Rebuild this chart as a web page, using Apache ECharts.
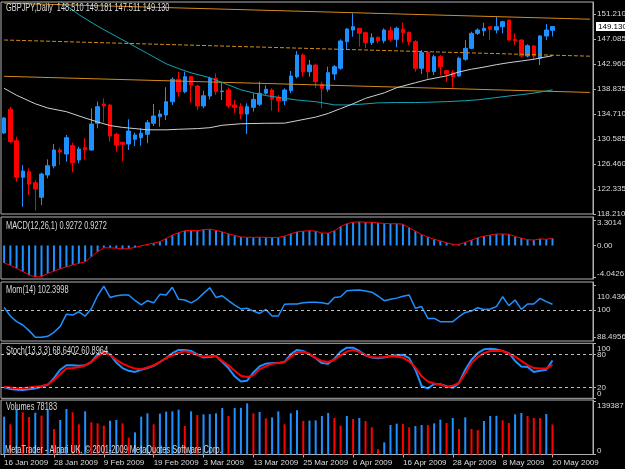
<!DOCTYPE html>
<html><head><meta charset="utf-8">
<script src="https://cdn.jsdelivr.net/npm/echarts@6/dist/echarts.min.js"></script>
<style>html,body{margin:0;padding:0;background:#000;overflow:hidden}#c{width:625px;height:469px}</style>
</head><body><div id="c"></div>
<script>
// ---------------- data ----------------
const symbolName = 'GBPJPY,Daily';
const xTickLabels = ['16 Jan 2009','28 Jan 2009','9 Feb 2009','19 Feb 2009','3 Mar 2009','13 Mar 2009','25 Mar 2009','6 Apr 2009','16 Apr 2009','28 Apr 2009','8 May 2009','20 May 2009'];
const barsPerLabel = 8;
const futureBars = 6;

const opens = [131.58,135.49,130.30,124.27,125.19,123.37,120.97,124.65,126.13,128.77,
 128.11,129.48,127.12,129.15,128.77,133.18,136.36,136.20,131.36,130.04,
 129.76,130.54,130.80,131.36,133.18,134.26,134.54,136.74,140.43,138.39,
 140.87,139.33,136.03,137.68,140.60,138.40,138.67,136.20,135.92,134.71,
 135.81,136.31,138.13,138.67,137.46,136.90,138.56,140.87,144.45,141.69,
 142.79,139.61,138.79,141.31,142.25,146.64,148.57,148.85,148.13,146.48,
 147.36,146.80,148.46,147.03,148.68,148.19,146.64,142.25,144.83,141.69,
 144.17,141.86,141.53,140.98,143.73,145.55,148.02,148.46,149.12,148.57,
 149.12,150.22,147.03,146.92,144.28,145.93,143.90,147.58,148.510];
const highs = [134.20,135.92,130.96,126.30,125.75,123.82,125.03,127.23,129.76,129.15,
 131.25,129.97,129.32,130.70,135.65,136.74,137.30,136.30,131.63,130.14,
 133.83,131.63,132.35,133.72,136.36,135.37,139.12,140.77,141.69,141.69,
 141.00,139.50,138.56,140.87,141.42,140.00,139.12,137.02,136.48,136.48,
 138.13,140.04,139.45,138.95,137.84,138.95,141.80,145.10,144.72,143.62,
 142.90,140.04,142.52,142.79,147.02,148.85,151.33,148.90,148.30,148.02,
 147.50,148.85,149.12,149.12,149.77,148.30,146.92,145.27,144.99,144.50,
 144.45,141.97,141.97,144.17,146.92,148.30,148.85,149.77,149.12,150.76,
 150.10,150.22,148.02,147.03,146.21,146.10,147.75,149.56,149.181];
const lows = [131.40,129.88,123.54,119.41,121.35,118.75,119.70,124.10,125.75,126.30,
 126.84,125.09,126.58,127.20,128.66,132.35,133.34,130.14,128.49,126.95,
 128.77,129.43,129.48,129.88,132.73,132.62,133.72,136.20,137.57,138.13,
 136.57,135.37,135.65,137.13,137.84,137.02,135.65,134.82,133.83,131.41,
 135.10,136.03,137.90,135.26,135.10,136.20,138.13,140.60,140.87,140.87,
 138.95,135.65,138.39,140.32,142.00,145.27,147.47,145.82,145.60,146.10,
 146.40,146.37,146.64,145.72,146.48,146.10,141.69,141.31,140.32,141.15,
 141.15,140.04,139.12,140.87,143.50,145.39,147.75,147.58,146.92,148.02,
 148.02,146.80,146.10,144.07,144.07,143.62,142.79,146.92,147.511];
const closes = [134.05,130.14,124.27,125.30,123.16,122.33,124.81,126.18,128.77,128.44,
 130.80,126.67,128.94,128.82,133.06,135.92,136.03,131.08,129.60,129.71,
 131.91,131.25,131.53,133.28,134.38,134.71,136.74,140.43,138.39,140.87,
 139.50,136.03,137.73,140.60,138.39,138.50,136.03,135.81,134.71,135.92,
 137.13,138.13,138.79,137.18,136.90,138.67,140.98,144.45,141.69,142.79,
 140.04,138.95,141.53,142.52,146.76,148.73,149.12,148.02,146.48,147.30,
 146.80,148.57,147.03,148.85,148.13,146.64,142.25,144.83,141.69,144.17,
 142.52,141.31,140.87,143.90,145.55,148.02,148.57,148.85,148.68,149.12,
 149.94,146.92,146.80,144.28,145.98,144.28,147.58,148.57,149.130];

// moving averages: [bar index, value]
const maFast = [[0,138.95],[2,137.8],[5,136.4],[7,135.7],[10,135.09],[13,134.05],[15,133.4],[17,132.8],[19,132.5],[21,132.3],[23,132.1],[26,132.1],[28,132.19],[31,132.3],[33,132.45],[35,132.85],[38,133.1],[42,133.18],[45,133.2],[47,133.6],[50,134.2],[52,134.8],[54,135.6],[56,136.4],[58,137.3],[61,138.2],[63,139.05],[66,139.87],[68,140.4],[71,141.0],[73,141.65],[75,142.1],[77,142.45],[79,142.85],[81,143.18],[83,143.45],[85,143.75],[88,144.33]];
const maSlow = [[8,154.1],[9,153.35],[10,152.6],[12,151.1],[15,149.2],[18,147.5],[20,146.4],[23,144.7],[26,143.0],[28,142.2],[30,141.5],[33,140.7],[35,139.9],[38,138.7],[40,138.2],[42,137.75],[45,137.3],[47,137.02],[50,136.74],[53,136.22],[55,136.2],[57,136.3],[60,136.55],[63,136.6],[66,136.6],[68,136.65],[71,136.75],[74,136.9],[76,137.05],[78,137.3],[81,137.68],[83,137.9],[85,138.15],[87,138.5],[88,138.7]];

// regression channel end points: [bar index, price]
const channelTop = [[0,153.0],[94,150.35]];
const channelMid = [[0,146.92],[94,144.25]];
const channelBot = [[0,140.93],[94,138.27]];

const macd = [-2.25,-2.55,-2.94,-3.35,-3.8,-4.04,-4.0,-3.6,-3.3,-3.0,
 -2.75,-2.5,-2.3,-2.1,-1.45,-0.8,-0.3,-0.3,-0.35,-0.45,
 -0.4,-0.25,-0.05,0.15,0.3,0.5,0.9,1.35,1.65,1.9,
 1.95,1.9,2.05,2.1,1.95,1.75,1.5,1.3,1.1,1.05,
 1.05,1.08,1.05,1.02,1.05,1.2,1.5,1.75,1.85,1.9,
 1.85,1.6,1.6,1.9,2.45,2.8,3.0,3.05,3.0,3.0,
 2.9,2.85,2.8,2.8,2.75,2.3,1.85,1.4,1.1,0.8,
 0.6,0.35,0.15,0.15,0.4,0.7,1.0,1.2,1.35,1.48,
 1.48,1.45,1.15,0.95,0.75,0.7,0.85,0.8,0.9272];
const macdSignal = macd.slice(); // signal period 1

const momentum = [101.0,97.4,95.0,93.6,91.2,88.4,88.4,88.8,90.5,93.0,
 98.2,97.8,99.2,97.4,100.5,106.0,110.1,105.3,106.0,106.3,
 106.3,104.0,102.1,103.9,103.0,106.6,106.3,109.6,104.5,104.2,
 103.0,104.5,107.0,109.4,105.3,106.0,103.9,102.0,100.4,100.7,
 99.5,98.5,100.2,97.4,97.4,102.4,102.5,102.5,103.0,103.2,
 103.2,103.0,102.5,105.3,105.6,108.1,108.3,108.4,108.0,107.5,
 105.9,103.9,104.5,105.0,105.8,106.3,100.7,101.4,96.4,96.4,
 95.0,95.0,95.0,97.1,98.9,99.5,100.9,100.2,100.4,101.4,
 105.6,101.8,104.2,100.2,102.5,102.5,104.9,103.5,102.3998];

const stochK = [20,17,15.5,15,16.5,18,21,24.4,36.7,52,
 60,60,59,60,66,80,85,80,65,55,
 50,48,52,55,59,66,73,82,88,88,
 86,80,74,75,77,66,55,40,30.6,32,
 47,58,63,64,64,66,80,88,86,80,
 73,64,63,72,85,92,92,86,78,74,
 72.6,74,77,78.5,79,73,52,22,18,26,
 25.6,22,19,28,52,70,82,89,90,89,
 86,82,68,58,57,48,50,52,68.6402];
const stochD = [21,19.5,18.8,18.5,19.5,21,22.5,25,33,44,
 54,55,56.5,60,66,76,83.5,79,70,63,
 58,54,53,56,60,66,73,78,83,85.4,
 83,78.5,76,76.5,77,68,60,50,41,38.5,
 41.7,53,58,63,64,66,75,83.7,84.5,81,
 73,68,66,70,78,85,88,84,78,75,
 74,75,77,75.5,74,67,56,40,30.6,27,
 25,21,23,28,45,64,75,82,86,86,
 86,81,76,68,60.5,55,54,54,60.8964];

const volumes = [98600,78600,118500,109900,97700,109000,101200,115900,66400,89900,
 118500,109900,78600,112500,83800,81200,75100,88100,89900,81200,
 43900,57800,98600,107300,78600,106400,111600,112500,116800,74300,
 112500,102900,104700,105200,107300,121200,100300,121200,121600,133300,
 107300,110700,94200,96800,112500,78600,107300,115100,87500,88300,
 88900,100300,108100,95100,75100,100300,92500,95100,87300,70800,
 13500,31700,76900,80300,79500,70800,74300,76900,76500,81200,
 90700,82100,95100,66400,96800,66400,63800,87300,100300,100700,
 89000,82100,104700,108100,100300,95100,94800,105500,78183];

// right-hand scale ticks
const priceTicks = [151.210,147.085,142.960,138.835,134.710,130.585,126.460,122.335,118.210];
const macdTicks = [3.3014,0,-4.0426];
const macdTickText = ['3.3014','0.00','-4.0426'];
const momTicks = [110.436,100,88.4956];
const momTickText = ['110.436','100','88.4956'];
const stochLevelTicks = [80,20];
const stochLevelText = ['80','20'];
const stochEdgeTicks = [100,0];
const stochEdgeText = ['100','0'];
const volTicks = [139387,0];
const volTickText = ['139387','0'];
const momLevel = 100;
const stochLevels = [80,20];

// ---------------- style ----------------
const FONT = "'Liberation Sans',Arial,sans-serif";
const TXT = '#dcdcdc', AXIS = '#b0b0b0';
const BLUE = '#1e90ff', RED = '#ff0000', ORANGE = '#d48c1a', CYAN = '#17a3b3', SILVER = '#d0d0d0';
const FS = 8;

const nBars = opens.length;
const cats = Array.from({length: nBars + futureBars}, (_, i) => String(i));

const gridDefs = [
  {top: 2, height: 212},
  {top: 217, height: 62},
  {top: 282, height: 59},
  {top: 343.3, height: 55},
  {top: 400, height: 54.5}
];
const grids = gridDefs.map(g => ({left: 1, width: 592, top: g.top, height: g.height,
  outerBoundsMode: 'none', containLabel: false,
  show: true, borderColor: AXIS, borderWidth: 1, backgroundColor: 'transparent'}));

function richFor(shifts) {
  const r = {};
  (shifts || []).forEach(s => {
    if (!s) return;
    const key = (s > 0 ? 'd' : 'u') + Math.abs(s);
    r[key] = {fontSize: FS, color: TXT, fontFamily: FONT,
      padding: s > 0 ? [2 * s, 0, 0, 0] : [0, 0, -2 * s, 0]};
  });
  return r;
}
function yAx(gridIndex, min, max, ticks, texts, shifts, showLine) {
  return {
    type: 'value', gridIndex, position: 'right', min, max,
    splitLine: {show: false},
    axisLine: {show: showLine !== false, lineStyle: {color: AXIS}},
    axisTick: {show: true, length: 3, lineStyle: {color: AXIS}, customValues: ticks},
    axisLabel: {
      show: true, customValues: ticks, margin: 4, color: TXT, fontSize: FS, fontFamily: FONT,
      hideOverlap: false, showMinLabel: true, showMaxLabel: true,
      formatter: v => {
        const i = ticks.findIndex(t => Math.abs(t - v) < 1e-7);
        if (i < 0) return '';
        const s = shifts && shifts[i];
        return s ? `{${(s > 0 ? 'd' : 'u') + Math.abs(s)}|${texts[i]}}` : texts[i];
      },
      rich: richFor(shifts)
    }
  };
}
const showLabel = i => i % barsPerLabel === 0 && (i / barsPerLabel) < xTickLabels.length;
function xAx(gridIndex, visible) {
  return {
    type: 'category', gridIndex, data: cats, boundaryGap: true,
    axisLine: {show: visible, lineStyle: {color: AXIS}},
    axisTick: {show: visible, interval: showLabel, alignWithLabel: true, length: 3, lineStyle: {color: AXIS}},
    axisLabel: {show: visible, interval: showLabel, align: 'left', margin: 4, color: TXT, fontSize: FS, fontFamily: FONT,
      formatter: (v) => xTickLabels[Math.round(Number(v) / barsPerLabel)] || ''},
    splitLine: {show: false}
  };
}

const candleData = opens.map((o, i) => [o, closes[i], lows[i], highs[i]]);
const last = nBars - 1;
const volData = volumes.map((v, i) => ({value: v,
  itemStyle: {color: (i === 0 || v >= volumes[i - 1]) ? BLUE : RED}}));

// panel captions (condensed like the MetaTrader bitmap font)
const captions = [
  {text: `${symbolName}  ${opens[last].toFixed(3)} ${highs[last].toFixed(3)} ${lows[last].toFixed(3)} ${closes[last].toFixed(3)}`, x: 6, y: 8},
  {text: `MACD(12,26,1) ${macd[last].toFixed(4)} ${macdSignal[last].toFixed(4)}`, x: 6, y: 226},
  {text: `Mom(14) ${momentum[last].toFixed(4)}`, x: 6, y: 290},
  {text: `Stoch(13,3,3) ${stochK[last].toFixed(4)} ${stochD[last].toFixed(4)}`, x: 6, y: 351},
  {text: `Volumes ${volumes[last]}`, x: 6, y: 407},
  {text: 'MetaTrader - Alpari UK, \u00a9 2001-2009 MetaQuotes Software Corp.', x: 5, y: 450}
];
const graphic = captions.map(c => ({type: 'text', x: c.x, y: c.y, scaleX: 0.74, silent: true, z: 100,
  style: {text: c.text, fill: TXT, font: `10px ${FONT}`, verticalAlign: 'middle', align: 'left'}}));

const lineBase = {type: 'line', symbol: 'none', silent: true, animation: false};

const option = {
  backgroundColor: '#000',
  animation: false,
  graphic: graphic,
  grid: grids,
  xAxis: [0, 1, 2, 3, 4].map(i => xAx(i, i === 4)),
  yAxis: [
    yAx(0, 118.21, 153.19, priceTicks, priceTicks.map(v => v.toFixed(3)), null),
    yAx(1, -4.315, 3.671, macdTicks, macdTickText, [3, 0, -3]),
    yAx(2, 86.80, 111.84, momTicks, momTickText, [11, 0, 0]),
    yAx(3, 0, 100, stochLevelTicks, stochLevelText, null),
    yAx(4, 0, 141994, volTicks, volTickText, [5, -4]),
    yAx(3, 0, 100, stochEdgeTicks, stochEdgeText, [5, -5], false)
  ],
  series: [
    {type: 'candlestick', xAxisIndex: 0, yAxisIndex: 0, data: candleData, barWidth: 4,
      itemStyle: {color: BLUE, color0: RED, borderColor: BLUE, borderColor0: RED, borderWidth: 1},
      markLine: {silent: true, symbol: ['none', 'none'], animation: false,
        lineStyle: {color: 'rgba(0,0,0,0)', width: 1, type: 'solid'},
        label: {show: true, position: 'end', distance: 3, formatter: () => closes[last].toFixed(3),
          color: '#000', backgroundColor: '#fff', padding: [1, 2, 0, 2], fontSize: FS, fontFamily: FONT},
        data: [{yAxis: closes[last]}]}},
    Object.assign({}, lineBase, {xAxisIndex: 0, yAxisIndex: 0, data: channelTop, lineStyle: {color: ORANGE, width: 1}}),
    Object.assign({}, lineBase, {xAxisIndex: 0, yAxisIndex: 0, data: channelMid, lineStyle: {color: ORANGE, width: 1, type: [4, 2]}}),
    Object.assign({}, lineBase, {xAxisIndex: 0, yAxisIndex: 0, data: channelBot, lineStyle: {color: ORANGE, width: 1}}),
    Object.assign({}, lineBase, {xAxisIndex: 0, yAxisIndex: 0, data: maSlow, lineStyle: {color: CYAN, width: 1}}),
    Object.assign({}, lineBase, {xAxisIndex: 0, yAxisIndex: 0, data: maFast, lineStyle: {color: SILVER, width: 1}}),
    {type: 'bar', xAxisIndex: 1, yAxisIndex: 1, data: macd, barWidth: 2, itemStyle: {color: BLUE}, silent: true},
    Object.assign({}, lineBase, {xAxisIndex: 1, yAxisIndex: 1, data: macdSignal, lineStyle: {color: RED, width: 1}}),
    Object.assign({}, lineBase, {xAxisIndex: 2, yAxisIndex: 2, data: momentum, lineStyle: {color: BLUE, width: 1.5},
      markLine: {silent: true, symbol: ['none', 'none'], label: {show: false}, animation: false,
        lineStyle: {color: '#bdbdbd', width: 1, type: [3, 3]}, data: [{yAxis: momLevel}]}}),
    Object.assign({}, lineBase, {xAxisIndex: 3, yAxisIndex: 3, data: stochK, lineStyle: {color: BLUE, width: 2},
      markLine: {silent: true, symbol: ['none', 'none'], label: {show: false}, animation: false,
        lineStyle: {color: '#bdbdbd', width: 1, type: [3, 3]}, data: stochLevels.map(v => ({yAxis: v}))}}),
    Object.assign({}, lineBase, {xAxisIndex: 3, yAxisIndex: 3, data: stochD, lineStyle: {color: RED, width: 2}}),
    {type: 'bar', xAxisIndex: 4, yAxisIndex: 4, data: volData, barWidth: 2, silent: true}
  ]
};
const chart = echarts.init(document.getElementById('c'), null, {renderer: 'canvas'});
chart.setOption(option);
</script>
</body></html>
